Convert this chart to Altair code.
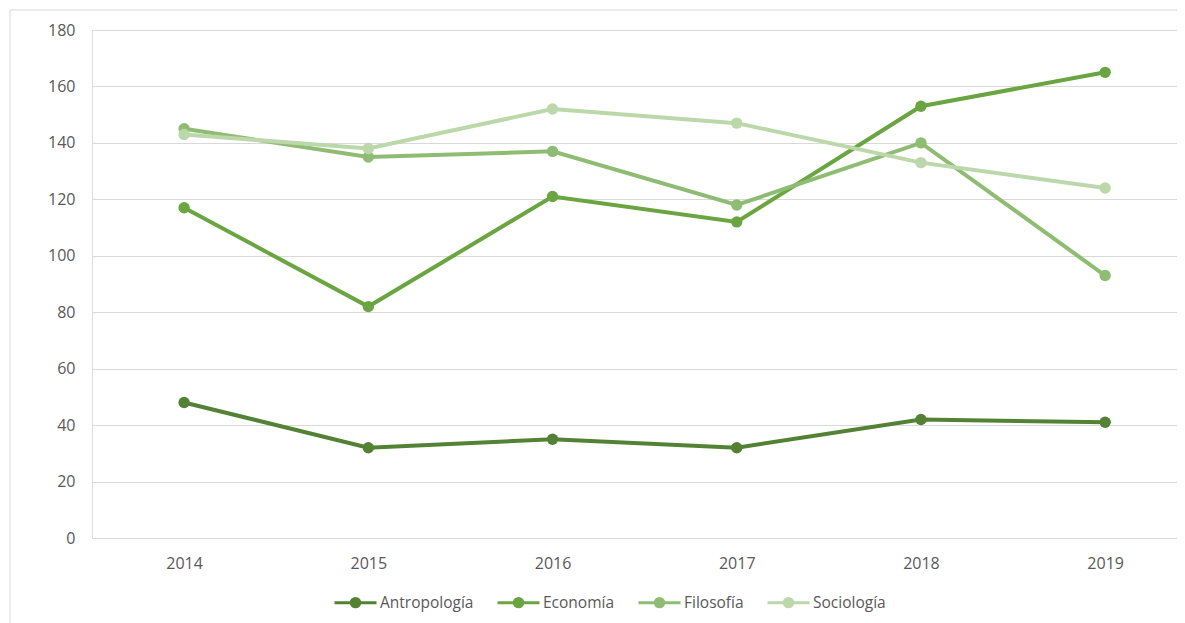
import altair as alt
import pandas as pd

years = [2014, 2015, 2016, 2017, 2018, 2019]
series = ["Antropología", "Economía", "Filosofía", "Sociología"]
antropologia = [48, 32, 35, 32, 42, 41]
economia = [117, 82, 121, 112, 153, 165]
filosofia = [145, 135, 137, 118, 140, 93]
sociologia = [143, 138, 152, 147, 133, 124]
colors = ["#548235", "#6aa541", "#8fbc73", "#bcd8aa"]

rows = []
for name, vals in zip(series, [antropologia, economia, filosofia, sociologia]):
    for y, v in zip(years, vals):
        rows.append({"Año": y, "Carrera": name, "Valor": v})
df = pd.DataFrame(rows)

FONT = "Open Sans"
TXT = "#595959"
GRID = "#d9d9d9"

x = alt.X("Año:Q",
          scale=alt.Scale(domain=[2013.5, 2019.39], nice=False, zero=False),
          axis=alt.Axis(values=years, format="d", title=None, grid=False,
                        domain=False, ticks=False, labelPadding=17,
                        labelFontSize=16, labelColor=TXT, labelFont=FONT))
y = alt.Y("Valor:Q",
          scale=alt.Scale(domain=[0, 180], nice=False),
          axis=alt.Axis(values=list(range(0, 181, 20)), title=None, grid=True,
                        gridColor=GRID, gridWidth=1, domain=False, ticks=False,
                        labelPadding=17, labelFontSize=16, labelColor=TXT,
                        labelFont=FONT))

cscale = alt.Scale(domain=series, range=colors)
legend = alt.Legend(title=None, orient="none", legendX=241, legendY=550,
                    direction="horizontal",
                    symbolType="M-1,0H1M-0.2,0A0.2,0.2,0,1,1,0.2,0A0.2,0.2,0,1,1,-0.2,0Z",
                    symbolSize=1764, symbolStrokeWidth=3, labelFontSize=15.5,
                    labelColor=TXT, labelFont=FONT, columnPadding=17,
                    labelOffset=2)

lines = alt.Chart(df).mark_line(strokeWidth=4).encode(
    x=x, y=y,
    stroke=alt.Stroke("Carrera:N", scale=cscale, legend=legend,
                      sort=series),
    order=alt.Order("Año:Q"),
)
points = alt.Chart(df).mark_point(filled=True, size=130, opacity=1,
                                  strokeWidth=0).encode(
    x=x, y=y,
    fill=alt.Fill("Carrera:N", scale=cscale, legend=legend, sort=series),
    stroke=alt.Stroke("Carrera:N", scale=cscale, legend=legend, sort=series),
)

frame_df = pd.DataFrame([{"k": 0}])
frame_v = alt.Chart(frame_df).mark_rule(color=GRID, strokeWidth=1).encode(
    x=alt.value(-82), y=alt.value(-20), y2=alt.value(700))
frame_h = alt.Chart(frame_df).mark_rule(color=GRID, strokeWidth=1).encode(
    x=alt.value(-82), x2=alt.value(1200), y=alt.value(-20))

chart = alt.layer(frame_v, frame_h, lines, points).properties(
    width=1085, height=508,
    autosize=alt.AutoSizeParams(type="none"),
    padding={"left": 84, "top": 22, "right": 0, "bottom": 85},
).configure_view(stroke=None).configure(background="white")

chart.save("out.html", embed_options={"renderer": "svg", "actions": False})
